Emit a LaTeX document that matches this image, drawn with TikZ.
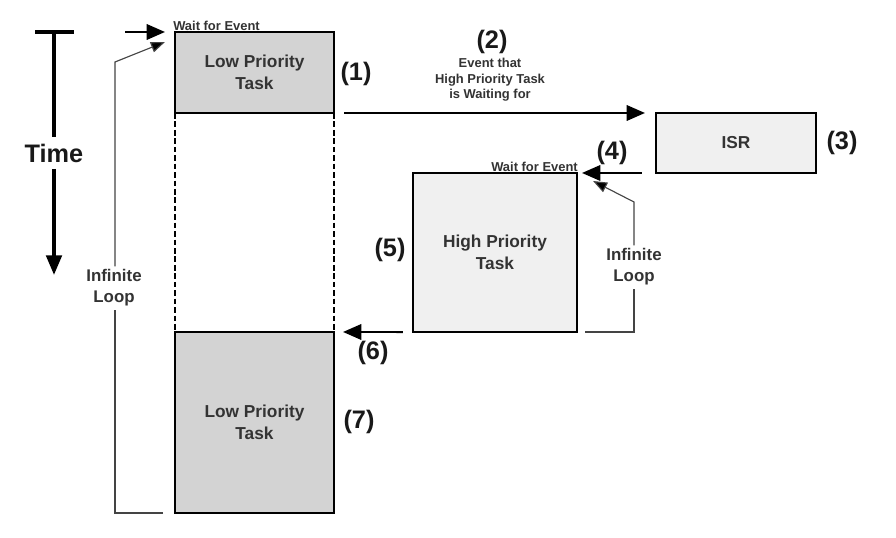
\documentclass[tikz,border=0pt]{standalone}
\usepackage{fontspec}
\setmainfont{Liberation Sans}
\usetikzlibrary{arrows.meta,calc}
\definecolor{lowgray}{HTML}{D3D3D3}
\definecolor{highgray}{HTML}{F0F0F0}
\definecolor{txtgray}{HTML}{333333}
\definecolor{loopgray}{HTML}{444444}
\begin{document}
\begin{tikzpicture}[x=0.025cm,y=-0.025cm,
  taskbox/.style={draw=black, line width=1.8pt, inner sep=0pt, outer sep=0pt, align=center, text=txtgray, font=\bfseries\fontsize{12.3}{15.5}\selectfont},
  lowbox/.style={taskbox, fill=lowgray},
  highbox/.style={taskbox, fill=highgray},
  numlabel/.style={font=\bfseries\fontsize{18}{21}\selectfont, text=black!90, inner sep=0pt},
  smalllabel/.style={font=\bfseries\fontsize{9.2}{11}\selectfont, text=txtgray, inner sep=0pt, align=center},
  looplabel/.style={font=\bfseries\fontsize{12}{15}\selectfont, text=txtgray, align=center, inner sep=2pt},
  evarrow/.style={line width=1.4pt, -{Triangle[length=13pt,width=11pt]}},
  timearrow/.style={line width=2.5pt, -{Triangle[length=14pt,width=11pt]}},
  timeline/.style={line width=2.5pt},
  loopline/.style={line width=0.8pt, draw=loopgray},
  looparrow/.style={loopline, -{Triangle[length=10pt,width=7.5pt,fill=black]}},
  dashline/.style={line width=1.5pt, dash pattern=on 4pt off 2pt},
]
\useasboundingbox (0,0) rectangle (896,538);
\fill[white] (0,0) rectangle (896,538);

% boxes
\node[lowbox, minimum width=3.975cm, minimum height=2.025cm] (low1) at (254.5,72.5) {Low Priority\\Task};
\node[lowbox, minimum width=3.975cm, minimum height=4.525cm] (low2) at (254.5,422.5) {Low Priority\\Task};
\node[highbox, minimum width=4cm, minimum height=1.5cm] (isr) at (736,143) {ISR};
\node[highbox, minimum width=4.1cm, minimum height=3.975cm] (high) at (495,252.5) {High Priority\\Task};

% dashed idle column
\draw[dashline] (low1.south west) -- (low2.north west);
\draw[dashline] (low1.south east) -- (low2.north east);

% time axis
\coordinate (tl) at (35,32);
\coordinate (tr) at (74,32);
\coordinate (ttop) at (54,32);
\coordinate (tend) at (54,275);
\node[font=\bfseries\fontsize{18}{21}\selectfont, text=black!90, inner xsep=0pt, inner ysep=4.5pt] (time) at (54,153) {Time};
\draw[timeline] (tl) -- (tr);
\draw[timeline] (ttop) -- (time.north);
\draw[timearrow] (time.south) -- (tend);

% wait for event labels
\coordinate (ws) at (125,32);
\draw[evarrow] (ws) -- ($(low1.north west)+(-10,0)$);
\node[smalllabel, anchor=base west] (wfe1) at ($(low1.north west)+(-2,-1)$) {Wait for Event};
\node[smalllabel, anchor=base east] (wfe2) at ($(high.north east)+(1,-1)$) {Wait for Event};

% event arrows
\draw[evarrow] ($(low1.south east)+(10,0)$) -- ($(isr.north west)+(-11,0)$);
\draw[evarrow] ($(isr.south west)+(-14,0)$) -- ($(high.north east)+(5,0)$);
\draw[evarrow] ($(high.south west)+(-10,0)$) -- ($(low2.north east)+(9,0)$);

\node[smalllabel] (evt) at (490,80) {Event that\\High Priority Task\\is Waiting for};

% numbers
\node[numlabel] (n1) at (356,74) {(1)};
\node[numlabel] (n2) at (492,42) {(2)};
\node[numlabel] (n3) at (842,143) {(3)};
\node[numlabel] (n4) at (612,153) {(4)};
\node[numlabel] (n5) at (390,250) {(5)};
\node[numlabel] (n6) at (373,353) {(6)};
\node[numlabel] (n7) at (359,422) {(7)};

% left infinite loop
\coordinate (ll1) at (163,513);
\coordinate (ll2) at (115,513);
\coordinate (ll3) at (115,62);
\node[looplabel] (lloop) at (114,288) {Infinite\\Loop};
\draw[loopline] (ll1) -- (ll2) -- (ll2 |- lloop.south);
\draw[looparrow] (ll2 |- lloop.north) -- (ll3) -- ($(low1.north west)+(-10,10)$);

% right infinite loop
\coordinate (rl1) at (585,332);
\coordinate (rl2) at (634,332);
\coordinate (rl3) at (634,202);
\node[looplabel] (rloop) at (634,267) {Infinite\\Loop};
\draw[loopline] (rl1) -- (rl2) -- (rl2 |- rloop.south);
\draw[looparrow] (rl2 |- rloop.north) -- (rl3) -- ($(high.north east)+(16,8)$);
\end{tikzpicture}
\end{document}
